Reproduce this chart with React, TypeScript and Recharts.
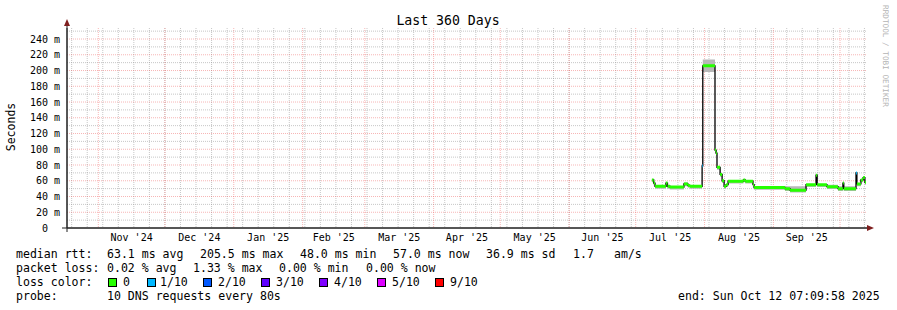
import { ComposedChart, Line, Area, XAxis, YAxis, CartesianGrid } from "recharts";

const FONT = "'DejaVu Sans Mono', monospace";

// time axis: days since the left edge of the graph (about 18 Oct 2024)
const runStart = [
  263.4, 264.2, 264.8, 269.7, 270.4, 271.5, 277.8, 279.6, 280.5, 286.0, 286.3,
  291.8, 292.3, 292.7, 294.1, 295.0, 295.9, 296.8, 297.7, 304.6, 305.4, 308.9,
  309.4, 323.3, 325.6, 332.8, 337.3, 337.8, 342.2, 347.2, 349.4, 349.8, 355.3,
  355.7, 357.5, 358.5, 359.3,
];
const runEnd = 359.8;
// median rtt in ms for each run
const medianMs = [
  61, 57, 53, 57, 53, 52, 56, 54, 53, 79, 206, 99, 95, 77, 68, 60, 53, 55, 59.5,
  61, 59.5, 55, 51.5, 50, 48, 55, 67, 55, 52.5, 50, 57, 50, 70, 56, 61, 64, 58,
];
const lossTenths = [
  0, 0, 0, 0, 0, 0, 0, 0, 0, 1, 0, 0, 0, 0, 0, 0, 0, 0, 0, 0, 0, 0, 0, 0, 0, 0,
  0, 0, 0, 0, 0, 0, 1, 0, 0, 0, 0,
];
// smoke (spread of the individual pings)
const smokeLo = [
  58, 54, 50, 54, 50, 49, 53, 51, 50, 78, 198, 95, 92, 74, 65, 57, 50, 52, 56.5,
  58, 56.5, 52, 48.5, 47, 45, 52, 63, 52, 49.5, 47, 53, 47, 66, 53, 58, 61, 55,
];
const smokeHi = [
  62, 58, 54, 58, 54, 53, 58, 55, 54, 80, 214, 100, 96, 78, 69, 61, 54, 56, 60.5,
  62, 60.5, 56, 52.5, 53, 53, 56, 68, 56, 55, 53, 58, 53, 71, 57, 62, 65, 59,
];

const monthStart = [14.1, 44.1, 75.1, 106.1, 134.1, 165.1, 195.1, 226.1, 256.1, 287.1, 318.1, 348.1];
const monthMid = [29.1, 59.6, 90.6, 120.1, 149.6, 180.1, 210.6, 241.1, 271.6, 302.6, 333.1];
const monthLabels = ["Nov '24", "Dec '24", "Jan '25", "Feb '25", "Mar '25", "Apr '25", "May '25", "Jun '25", "Jul '25", "Aug '25", "Sep '25"];
const weekLines = [
  2.1, 9.1, 16.1, 23.1, 30.1, 37.1, 44.1, 51.1, 58.1, 65.1, 72.1, 79.1, 86.1,
  93.1, 100.1, 107.1, 114.1, 121.1, 128.1, 135.1, 142.1, 149.1, 156.1, 163.1,
  170.1, 177.1, 184.1, 191.1, 198.1, 205.1, 212.1, 219.1, 226.1, 233.1, 240.1,
  247.1, 254.1, 261.1, 268.1, 275.1, 282.1, 289.1, 296.1, 303.1, 310.1, 317.1,
  324.1, 331.1, 338.1, 345.1, 352.1, 359.1,
];
const yTicks = [0, 20, 40, 60, 80, 100, 120, 140, 160, 180, 200, 220, 240];
const yMinor = [10, 30, 50, 70, 90, 110, 130, 150, 170, 190, 210, 230, 250];

const lossLevels = ["0", "1/10", "2/10", "3/10", "4/10", "5/10", "9/10"];
const lossColors = ["#26ff00", "#00b8ff", "#0059ff", "#5e00ff", "#7e00ff", "#dd00ff", "#ff0000"];

const rttRow = [
  [16, "median rtt:"], [107, "63.1 ms avg"], [200, "205.5 ms max"], [300, "48.0 ms min"],
  [393, "57.0 ms now"], [486, "36.9 ms sd"], [573, "1.7"], [614, "am/s"],
] as const;
const lossRow = [
  [16, "packet loss:"], [107, "0.02 % avg"], [193, "1.33 % max"], [279, "0.00 % min"], [366, "0.00 % now"],
] as const;
const squareX = [108, 147, 203, 261, 319, 377, 435];
const squareLabelX = [123, 160, 218, 276, 334, 392, 450];

const table = runStart.map((t, i) => ({ t, med: medianMs[i], smoke: [smokeLo[i], smokeHi[i]] }));
table.push({ t: runEnd, med: medianMs[medianMs.length - 1], smoke: [smokeLo[smokeLo.length - 1], smokeHi[smokeHi.length - 1]] });

// horizontal pieces only, so the vertical steps stay black
function segments(level: number) {
  const out: { t: number; v: number | null }[] = [];
  runStart.forEach((t, i) => {
    if (lossTenths[i] !== level) return;
    const t2 = i + 1 < runStart.length ? runStart[i + 1] : runEnd;
    out.push({ t, v: medianMs[i] }, { t: t2, v: medianMs[i] }, { t: t2, v: null });
  });
  return out;
}

const GRID = "rgba(143,143,143,0.5)";
const MGRID = "rgba(235,80,80,0.42)";

export default function App() {
  return (
    <div style={{ position: "absolute", left: 0, top: 0, width: 897, height: 310, background: "#fff" }}>
      <ComposedChart width={897} height={310} data={table} margin={{ top: 28, right: 30, bottom: 62, left: 0 }}>
        <CartesianGrid
          stroke={GRID}
          strokeDasharray="1 1"
          horizontalValues={yMinor}
          verticalValues={weekLines}
        />
        <CartesianGrid
          stroke={MGRID}
          strokeDasharray="1 1"
          horizontalValues={yTicks.slice(1)}
          verticalValues={monthStart}
        />
        <XAxis
          type="number"
          dataKey="t"
          domain={[0, 360.25]}
          ticks={monthMid}
          interval={0}
          tickFormatter={(v) => monthLabels[monthMid.indexOf(v)]}
          tickLine={false}
          tickSize={4}
          tickMargin={2}
          height={20}
          stroke="#1f1f1f"
          tick={{ fontSize: 10, fill: "#000", fontFamily: FONT }}
          allowDataOverflow
        />
        <YAxis
          domain={[0, 254]}
          ticks={yTicks}
          interval={0}
          width={67}
          tickFormatter={(v) => (v === 0 ? "0\u00a0\u00a0" : `${v} m`)}
          tickLine={false}
          tickSize={5}
          tickMargin={2}
          stroke="#1f1f1f"
          tick={{ fontSize: 10, fill: "#000", fontFamily: FONT }}
          allowDataOverflow
        />
        <Area
          dataKey="smoke"
          type="stepAfter"
          fill="#b8b8b8"
          fillOpacity={1}
          stroke="none"
          isAnimationActive={false}
        />
        <Line
          dataKey="med"
          type="stepAfter"
          stroke="#000"
          strokeWidth={1.3}
          dot={false}
          isAnimationActive={false}
        />
        <Line
          data={segments(0)}
          dataKey="v"
          type="linear"
          stroke={lossColors[0]}
          strokeWidth={3}
          dot={false}
          connectNulls={false}
          isAnimationActive={false}
        />
        <Line
          data={segments(1)}
          dataKey="v"
          type="linear"
          stroke={lossColors[1]}
          strokeWidth={3}
          dot={false}
          connectNulls={false}
          isAnimationActive={false}
        />
      </ComposedChart>
      <svg
        width={897}
        height={310}
        style={{ position: "absolute", left: 0, top: 0, pointerEvents: "none" }}
        fontFamily={FONT}
      >
        <text x={448} y={25} textAnchor="middle" fontSize={13.2} fill="#000">
          Last 360 Days
        </text>
        <text transform="translate(15,127) rotate(-90)" textAnchor="middle" fontSize={11.5} fill="#000">
          Seconds
        </text>
        <text transform="translate(883,5) rotate(90)" fontSize={7.7} fill="#b4b4b4">
          RRDTOOL / TOBI OETIKER
        </text>
        {/* axis extensions and arrows */}
        <line x1={62} y1={228} x2={868} y2={228} stroke="#1f1f1f" />
        <line x1={67} y1={232} x2={67} y2={26} stroke="#1f1f1f" />
        <polygon points="867,225 874,228 867,231" fill="#7f1f1f" />
        <polygon points="64,26 67,19 70,26" fill="#7f1f1f" />

        <g fontSize={11.56} fill="#000">
          {rttRow.map(([x, s]) => (
            <text key={s} x={x} y={258}>{s}</text>
          ))}
          {lossRow.map(([x, s], i) => (
            <text key={i} x={x} y={272}>{s}</text>
          ))}
          <text x={16} y={286}>loss color:</text>
          {lossLevels.map((s, i) => (
            <g key={s}>
              <rect x={squareX[i] + 0.5} y={278.5} width={8} height={8} fill={lossColors[i]} stroke="#000" />
              <text x={squareLabelX[i]} y={286}>{s}</text>
            </g>
          ))}
          <text x={16} y={300}>probe:</text>
          <text x={107} y={300}>10 DNS requests every 80s</text>
          <text x={678} y={300}>end: Sun Oct 12 07:09:58 2025</text>
        </g>
      </svg>
    </div>
  );
}
